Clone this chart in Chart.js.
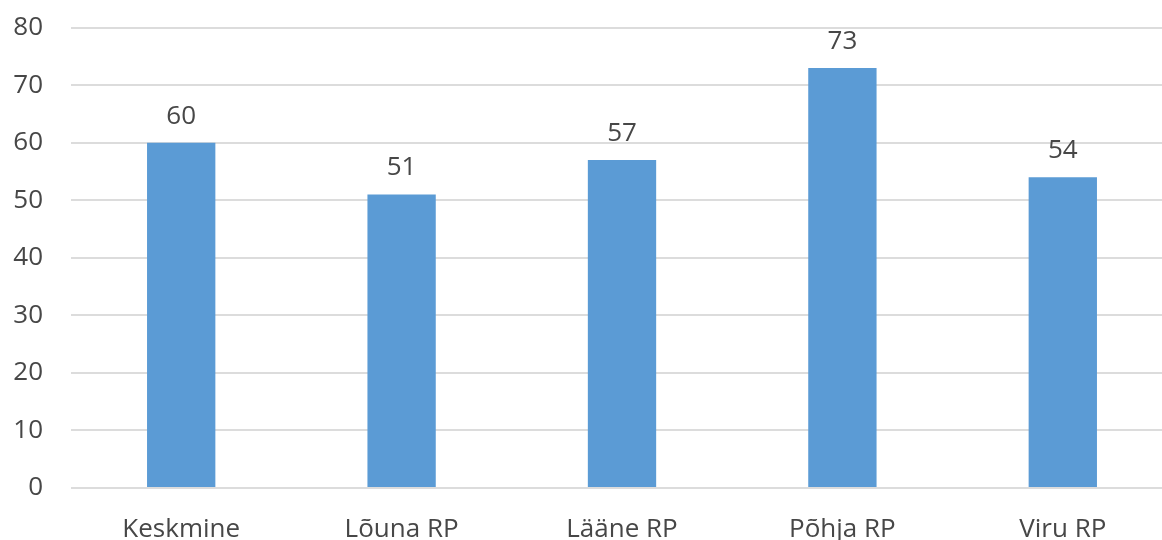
<!DOCTYPE html>
<html>
<head>
<meta charset="utf-8">
<script src="https://cdn.jsdelivr.net/npm/chart.js@4"></script>
<style>
  html, body { margin: 0; padding: 0; background: #fff; overflow: hidden; }
  #wrap { width: 1173px; height: 556px; margin-top: -16px; }
</style>
</head>
<body>
<div id="wrap"><canvas id="myChart"></canvas></div>
<script>
const categories = ['Keskmine', 'Lõuna RP', 'Lääne RP', 'Põhja RP', 'Viru RP'];
const values = [60, 51, 57, 73, 54];
const yTicks = [0, 10, 20, 30, 40, 50, 60, 70, 80];

const textColor = '#474747';
const fontFamily = '"Open Sans", "Liberation Sans", sans-serif';

// draws the number above each bar
const barLabels = {
  id: 'barLabels',
  afterDatasetsDraw(chart) {
    const ctx = chart.ctx;
    const meta = chart.getDatasetMeta(0);
    ctx.save();
    ctx.fillStyle = textColor;
    ctx.font = '26px ' + fontFamily;
    ctx.textAlign = 'center';
    ctx.textBaseline = 'alphabetic';
    meta.data.forEach((bar, i) => {
      ctx.fillText(values[i], bar.x, bar.y - 19);
    });
    ctx.restore();
  }
};

new Chart(document.getElementById('myChart'), {
  type: 'bar',
  data: {
    labels: categories,
    datasets: [{
      data: values,
      backgroundColor: '#5B9BD5',
      borderWidth: 0,
      barPercentage: 0.62,
      categoryPercentage: 0.5
    }]
  },
  options: {
    responsive: true,
    maintainAspectRatio: false,
    animation: false,
    layout: { padding: 0 },
    plugins: { legend: { display: false }, tooltip: { enabled: false } },
    scales: {
      x: {
        grid: { display: false },
        border: { display: false },
        ticks: { color: textColor, font: { family: fontFamily, size: 26 }, padding: 18 },
        afterFit(scale) { scale.height = 52; }
      },
      y: {
        min: 0,
        max: 80,
        afterBuildTicks(scale) { scale.ticks = yTicks.map(v => ({ value: v })); },
        grid: { color: '#dcdcdc', lineWidth: 2, drawTicks: false },
        border: { display: false },
        ticks: { color: textColor, font: { family: fontFamily, size: 26 }, padding: 28 },
        afterFit(scale) { scale.width = 71; }
      }
    }
  },
  plugins: [barLabels]
});
</script>
</body>
</html>
